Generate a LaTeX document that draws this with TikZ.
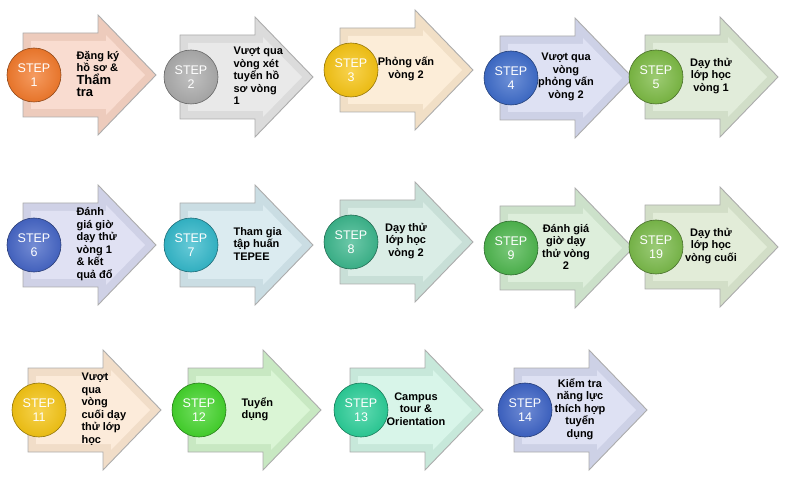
\documentclass[tikz,border=0pt]{standalone}
\usepackage{fontspec}
\setmainfont{Liberation Sans}
\usetikzlibrary{positioning}

\definecolor{arrA}{HTML}{F7D3C4}
\definecolor{arrB}{HTML}{E4E4E4}
\definecolor{arrC}{HTML}{FBE8CE}
\definecolor{arrD}{HTML}{D6DAF0}
\definecolor{arrE}{HTML}{DAE7D0}
\definecolor{arrF}{HTML}{D8DAF0}
\definecolor{arrG}{HTML}{D2E6EC}
\definecolor{arrH}{HTML}{D0E8E0}
\definecolor{arrI}{HTML}{D5EAD2}
\definecolor{arrJ}{HTML}{DBE7CF}
\definecolor{arrK}{HTML}{FBE6D0}
\definecolor{arrL}{HTML}{D0F2CA}
\definecolor{arrM}{HTML}{CFF2E3}
\definecolor{arrN}{HTML}{D6DAF0}

\definecolor{ballA}{HTML}{F27A2C}
\definecolor{ballB}{HTML}{ABABAB}
\definecolor{ballC}{HTML}{F6C414}
\definecolor{ballD}{HTML}{3E6CCA}
\definecolor{ballE}{HTML}{7CBA44}
\definecolor{ballF}{HTML}{4666C6}
\definecolor{ballG}{HTML}{34B8CA}
\definecolor{ballH}{HTML}{3CB68C}
\definecolor{ballI}{HTML}{4EB64E}
\definecolor{ballJ}{HTML}{7ABA4A}
\definecolor{ballK}{HTML}{F4C414}
\definecolor{ballL}{HTML}{44D42C}
\definecolor{ballM}{HTML}{2CCE98}
\definecolor{ballN}{HTML}{3E64C6}

\newcommand{\bigline}{\fontsize{13}{15}\selectfont}

\tikzset{
  arrowbody/.style={draw=gray!65, line width=0.9pt},
  stepball/.style={circle, minimum size=54pt, inner sep=0pt, draw=#1!60!black,
    line width=0.6pt, inner color=#1!75!white, outer color=#1!95!black,
    text=white, align=center, font=\fontsize{12.5}{13.5}\selectfont},
  steptextl/.style={anchor=west, align=left, xshift=50pt,
    font=\fontsize{11}{12.5}\selectfont\bfseries},
  steptextc/.style={anchor=center, align=center, xshift=66pt,
    font=\fontsize{11}{12.5}\selectfont\bfseries},
}

\begin{document}
\begin{tikzpicture}[x=1pt, y=-1pt]
\useasboundingbox (0,0) rectangle (785,481);
% step arrows: index/left/centre y/arrow colour/ball colour/number/text style/text
\foreach \i/\L/\cy/\ac/\bc/\num/\ts/\txt in {
  1/23/75/arrA/ballA/1/steptextl/{Đặng ký\\hồ sơ \&\\\bigline Thẩm\\\bigline tra},
  2/180/77/arrB/ballB/2/steptextl/{Vượt qua\\vòng xét\\tuyển hồ\\sơ vòng\\1},
  3/340/70/arrC/ballC/3/steptextc/{Phỏng vấn\\vòng 2},
  4/500/78/arrD/ballD/4/steptextc/{Vượt qua\\vòng\\phỏng vấn\\vòng 2},
  5/645/77/arrE/ballE/5/steptextc/{Dạy thử\\lớp học\\vòng 1},
  6/23/245/arrF/ballF/6/steptextl/{Đánh\\giá giờ\\dạy thử\\vòng 1\\\& kết\\quả đổ},
  7/180/245/arrG/ballG/7/steptextl/{Tham gia\\tập huấn\\TEPEE},
  8/340/242/arrH/ballH/8/steptextc/{Dạy thử\\lớp học\\vòng 2},
  9/500/248/arrI/ballI/9/steptextc/{Đánh giá\\giờ dạy\\thử vòng\\2},
  10/645/247/arrJ/ballJ/19/steptextc/{Dạy thử\\lớp học\\vòng cuối},
  11/28/410/arrK/ballK/11/steptextl/{Vượt\\qua\\vòng\\cuối dạy\\thử lớp\\học},
  12/188/410/arrL/ballL/12/steptextl/{Tuyển\\dụng},
  13/350/410/arrM/ballM/13/steptextc/{Campus\\tour \&\\Orientation},
  14/514/410/arrN/ballN/14/steptextc/{Kiểm tra\\năng lực\\thích hợp\\tuyển\\dụng}}{
\begin{scope}[shift={(\L,\cy)}]
\draw[arrowbody, fill=\ac!96!black] (0,-42) -- (75,-42) -- (75,-60) -- (133,0)
  -- (75,60) -- (75,42) -- (0,42) -- cycle;
\fill[\ac!80!white] (8,-34) -- (83,-34) -- (83,-40) -- (122,0)
  -- (83,40) -- (83,34) -- (8,34) -- cycle;
\node[stepball=\bc] (ball\i) at (11,0) {STEP\\\num};
\node[\ts] (txt\i) at (0,-1) {\txt};
\end{scope}
}
\end{tikzpicture}
\end{document}
